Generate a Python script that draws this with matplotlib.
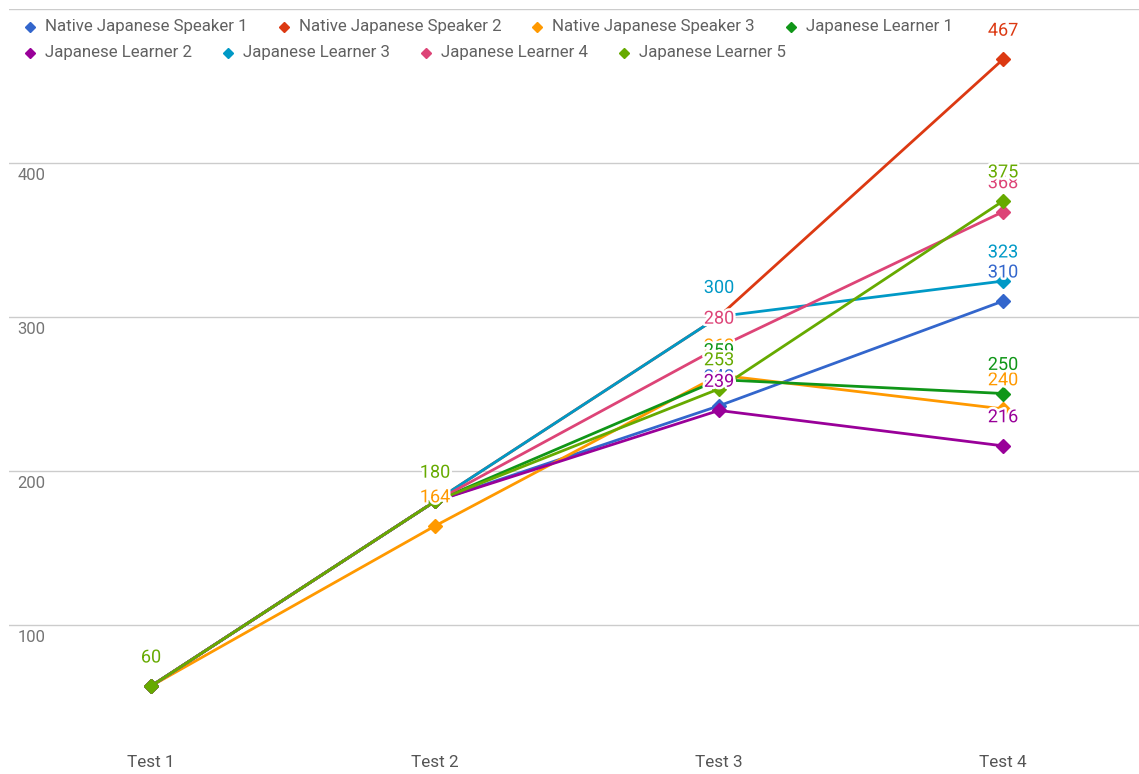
import numpy as np
import matplotlib.pyplot as plt
import matplotlib.patheffects as pe
from matplotlib.lines import Line2D

plt.rcParams['font.family'] = ['Roboto', 'DejaVu Sans']

# Scores for each participant over the four tests
tests = ["Test 1", "Test 2", "Test 3", "Test 4"]
names = ["Native Japanese Speaker 1", "Native Japanese Speaker 2", "Native Japanese Speaker 3",
         "Japanese Learner 1", "Japanese Learner 2", "Japanese Learner 3",
         "Japanese Learner 4", "Japanese Learner 5"]
native_1 = [60, 180, 242, 310]
native_2 = [60, 180, 300, 467]
native_3 = [60, 164, 262, 240]
learner_1 = [60, 180, 259, 250]
learner_2 = [60, 180, 239, 216]
learner_3 = [60, 180, 300, 323]
learner_4 = [60, 180, 280, 368]
learner_5 = [60, 180, 253, 375]
all_scores = [native_1, native_2, native_3, learner_1, learner_2, learner_3, learner_4, learner_5]

grid_ticks = [100, 200, 300, 400, 500]
labelled_ticks = [100, 200, 300, 400]

colors = ["#3366cc", "#dc3912", "#ff9900", "#109618",
          "#990099", "#0099c6", "#dd4477", "#66aa00"]

W, H = 1139, 774
fig = plt.figure(figsize=(W / 100, H / 100), dpi=100)
# plot area in pixels: left 9, width 1136 (runs a little past the right edge), top 8.5, bottom 740
ax = fig.add_axes([9 / W, 1 - 740 / H, 1136 / W, 731.5 / H])

x = np.arange(len(tests))
halo = [pe.withStroke(linewidth=3.5, foreground="white")]

for i, scores in enumerate(all_scores):
    ax.plot(x, scores, color=colors[i], linewidth=2, marker="D", markersize=7.5,
            zorder=3 + i * 0.01, clip_on=False)

# value labels above every point, later series sit on top
for i, scores in enumerate(all_scores):
    for xi, v in zip(x, scores):
        ax.annotate(str(v), (xi, v), xytext=(0, 17), textcoords="offset points",
                    ha="center", va="baseline", fontsize=13, color=colors[i],
                    path_effects=halo, zorder=10 + i * 0.01)

ax.set_xlim(-0.5, 3.5)
ax.set_ylim(25, 500)
ax.set_xticks(x)
ax.set_xticklabels(tests, fontsize=12.3, color="#555555")
ax.tick_params(axis="x", length=0, pad=11)
ax.set_yticks(grid_ticks)
ax.set_yticklabels([])
ax.tick_params(axis="y", length=0)
ax.grid(axis="y", color="#cccccc", linewidth=1)
ax.set_axisbelow(True)
for s in ax.spines.values():
    s.set_visible(False)

# y labels sit inside the plot, just under their gridline
for t in labelled_ticks:
    ax.annotate(str(t), (0, t), xycoords=("axes fraction", "data"),
                xytext=(6, -4), textcoords="offset points",
                ha="left", va="top", fontsize=12, color="#757575")

# legend laid out as a wrapping row of diamond + text items
renderer = fig.canvas.get_renderer()
px, row_y = 30, 27
for i, name in enumerate(names):
    t = fig.text(0, 0, name, fontsize=12.2, color="#616161", va="center", ha="left")
    w = t.get_window_extent(renderer).width
    if px + 15 + w > 1100:
        px = 30
        row_y += 26
    fig.add_artist(Line2D([px / W], [1 - row_y / H], marker="D", markersize=5.5,
                          color=colors[i], transform=fig.transFigure))
    t.set_position(((px + 15) / W, 1 - row_y / H))
    px = px + 15 + w + 36

fig.savefig("out.png", dpi=100, facecolor="white")
